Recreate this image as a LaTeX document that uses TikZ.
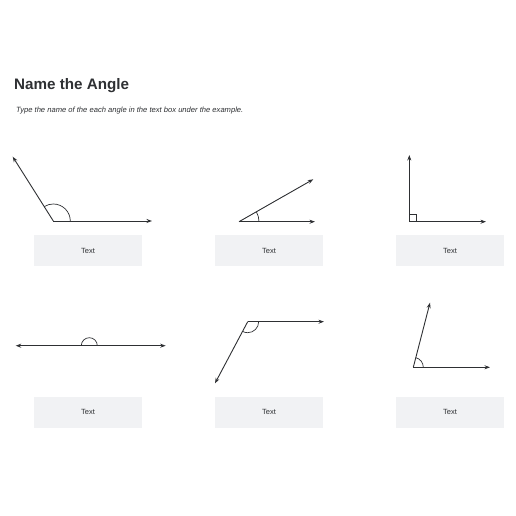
\documentclass[tikz,border=0pt]{standalone}
\usepackage{fontspec}
\setmainfont{Liberation Sans}
\usetikzlibrary{arrows.meta}
\definecolor{boxgray}{HTML}{F1F2F4}
\definecolor{inkgray}{HTML}{2E3033}
\tikzset {>=Stealth}
\tikzset{
  ray/.style={draw=inkgray, line width=0.9pt, -{Stealth[length=5.5pt,width=4pt]}},
  anglemark/.style={draw=inkgray, line width=0.7pt},
  answerbox/.style={fill=boxgray, minimum width=108pt, minimum height=31pt,
    inner sep=0pt, font=\fontsize{7.5}{9}\selectfont, text=inkgray}
}

\begin{document}
\begin{tikzpicture}[x=1pt,y=1pt]
\useasboundingbox (0,0) rectangle (516,516);
\node[anchor=base west, inner sep=0pt, font=\bfseries\fontsize{15.2}{18}\selectfont, text=inkgray]
  (title) at (14,426) {Name the Angle};
\node[anchor=base west, inner sep=0pt, font=\itshape\fontsize{7.6}{9}\selectfont, text=inkgray]
  (hint) at (16,403) {Type the name of the each angle in the text box under the example.};
% obtuse angle
\coordinate (v1) at (53.3,295);
\coordinate (a1) at (152,295);
\coordinate (b1) at (12.7,359.3);
\draw[ray] (v1) -- (a1);
\draw[ray] (v1) -- (b1);
\draw[anglemark] ([shift={(0:17)}]v1) arc[start angle=0,end angle=122,radius=17];
% acute angle
\coordinate (v2) at (239,294.3);
\coordinate (a2) at (315,294.3);
\coordinate (b2) at (313.3,336.7);
\draw[ray] (v2) -- (a2);
\draw[ray] (v2) -- (b2);
\draw[anglemark] ([shift={(0:20)}]v2) arc[start angle=0,end angle=29.7,radius=20];
% right angle
\coordinate (v3) at (409.3,294.3);
\coordinate (a3) at (486,294.3);
\coordinate (b3) at (409.3,361);
\draw[ray] (v3) -- (a3);
\draw[ray] (v3) -- (b3);
\draw[anglemark] ([xshift=7pt]v3) |- ([yshift=7pt]v3);
% straight angle
\coordinate (v4) at (89.3,170.3);
\coordinate (a4) at (165.7,170.3);
\coordinate (b4) at (15.7,170.3);
\draw[ray] (v4) -- (a4);
\draw[ray] (v4) -- (b4);
\draw[anglemark] ([shift={(0:8)}]v4) arc[start angle=0,end angle=180,radius=8];
% obtuse angle, turned
\coordinate (v5) at (247.7,194.3);
\coordinate (a5) at (324,194.3);
\coordinate (b5) at (215,132.7);
\draw[ray] (v5) -- (a5);
\draw[ray] (v5) -- (b5);
\draw[anglemark] ([shift={(0:11)}]v5) arc[start angle=0,end angle=-118,radius=11];
% acute angle, steep
\coordinate (v6) at (413.3,148.7);
\coordinate (a6) at (490,148.7);
\coordinate (b6) at (430,213.3);
\draw[ray] (v6) -- (a6);
\draw[ray] (v6) -- (b6);
\draw[anglemark] ([shift={(0:10)}]v6) arc[start angle=0,end angle=75.5,radius=10];
% answer boxes
\node[answerbox] (t1) at (88,265.5) {Text};
\node[answerbox] (t2) at (269,265.5) {Text};
\node[answerbox] (t3) at (450,265.5) {Text};
\node[answerbox] (t4) at (88,103.7) {Text};
\node[answerbox] (t5) at (269,103.7) {Text};
\node[answerbox] (t6) at (450,103.7) {Text};
\end{tikzpicture}
\end{document}
